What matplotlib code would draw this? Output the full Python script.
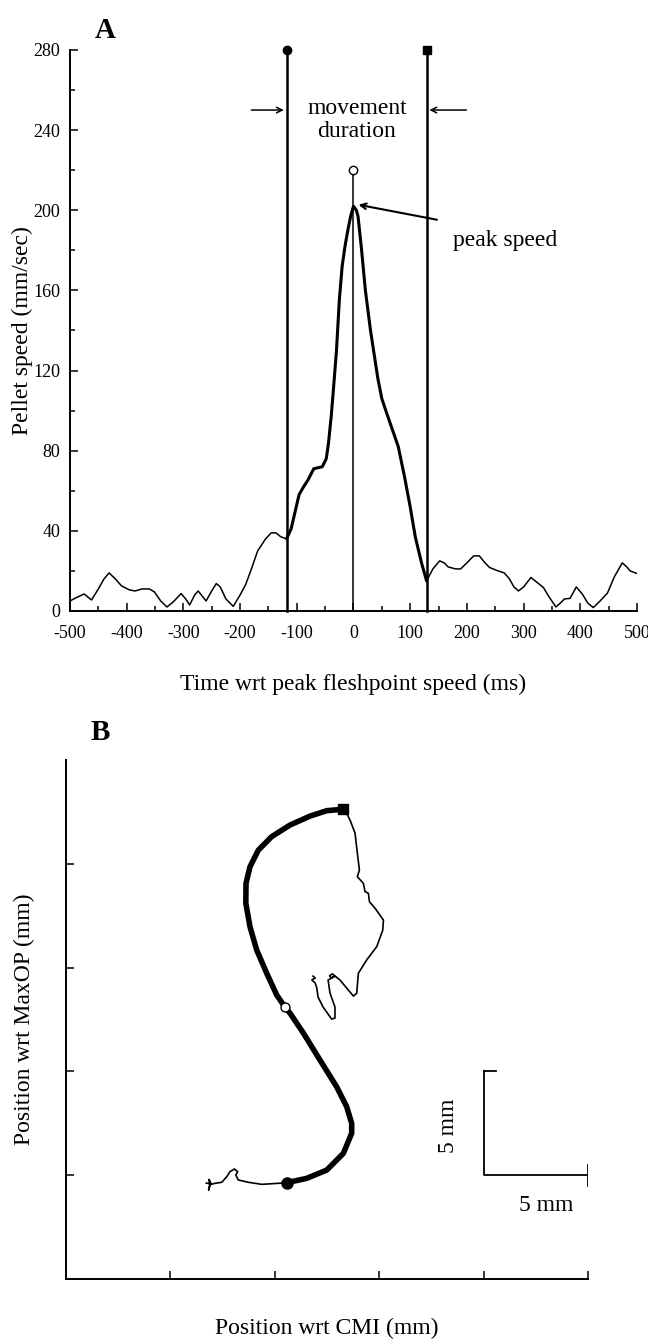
import numpy as np
import matplotlib
matplotlib.use("Agg")
import matplotlib.pyplot as plt
from matplotlib.ticker import MultipleLocator, FixedLocator, NullFormatter

plt.rcParams['font.family'] = ['Liberation Serif', 'DejaVu Serif']
plt.rcParams['axes.unicode_minus'] = False

# ---- panel A: pellet speed vs time (ms) ----
time_ms = [-500, -490, -475, -462, -450, -440, -431, -420, -409, -395, -385, -373,
           -360, -351, -340, -329, -318, -304, -296, -289, -280, -274, -267, -260,
           -250, -242, -235, -225, -212, -200, -190, -180, -169, -155, -145, -137,
           -128, -118, -110, -96, -88, -81, -70, -55, -48, -44, -39, -35, -30, -25,
           -20, -15, -10, -5, 0, 5, 8, 14, 21, 30, 43, 50, 57, 68, 79, 90, 100, 109,
           120, 129, 140, 152, 160, 167, 180, 189, 200, 212, 222, 232, 240, 255, 266,
           275, 283, 291, 300, 313, 325, 335, 345, 357, 365, 372, 382, 393, 404, 413,
           423, 435, 448, 460, 474, 482, 488, 500]
speed = [5, 6.5, 8.5, 5.5, 11, 16, 19, 16, 12.5, 10.5, 10, 11,
         11, 9.5, 5, 2, 4.5, 8.7, 6, 3, 8, 10, 7.5, 5,
         10, 13.7, 12, 6, 2.3, 8, 13.3, 21, 30, 36, 39, 39,
         37, 36, 41, 58, 62, 65, 71, 72, 76, 84, 98, 112, 130, 155,
         172, 182, 190, 197, 202, 200, 197, 181, 160, 140, 116, 106, 100, 91, 82, 67, 52, 37,
         24, 15, 21, 25, 24, 22, 21, 21, 24, 27.5, 27.5, 24, 21.7, 20, 19,
         16, 12, 10, 12, 16.7, 14, 11.7, 7, 2, 4, 6, 6.3, 12, 8.3, 4,
         1.7, 5, 9, 17, 24, 22, 20, 18.7]
move_start = -118
move_end = 129
peak_time = 0
peak_marker = 220

# ---- panel B: pellet path (mm) ----
pre_x = [6.72, 6.95, 6.85, 6.88, 6.83, 6.9, 7.14, 7.46, 7.70, 7.85, 8.06, 8.22, 8.13, 8.25, 8.73, 9.37, 10.17, 10.57]
pre_y = [4.62, 4.58, 4.80, 4.52, 4.28, 4.55, 4.61, 4.66, 4.93, 5.17, 5.30, 5.17, 5.01, 4.77, 4.66, 4.56, 4.61, 4.64]
move_x = [10.57, 11.53, 12.49, 13.28, 13.68, 13.68, 13.44, 12.96, 12.16, 11.37, 10.73, 10.49,
          10.09, 9.61, 9.13, 8.81, 8.61, 8.62, 8.81, 9.21, 9.85, 10.73, 11.69, 12.49, 13.28]
move_y = [4.64, 4.85, 5.25, 6.05, 7.02, 7.50, 8.30, 9.26, 10.55, 11.84, 12.80, 13.09,
          13.68, 14.73, 15.85, 16.97, 18.10, 19.06, 19.86, 20.66, 21.31, 21.87, 22.30, 22.56, 22.63]
post_x = [13.28, 13.44, 13.60, 13.84, 13.95, 14.05, 13.95, 14.24, 14.32, 14.48, 14.53, 14.80, 15.20,
          15.17, 14.88, 14.40, 14.00, 13.92, 13.76, 13.52, 13.12, 12.88, 12.75, 12.62, 12.70, 12.86,
          12.55, 12.64, 12.88, 12.88, 12.72, 12.31, 12.07, 12.01, 11.93, 11.77, 11.93, 11.83]
post_y = [22.63, 22.43, 22.11, 21.48, 20.52, 19.70, 19.38, 19.06, 18.66, 18.58, 18.17, 17.86, 17.29,
          16.81, 16.01, 15.37, 14.73, 13.76, 13.63, 13.92, 14.40, 14.60, 14.70, 14.60, 14.50, 14.58,
          14.40, 13.78, 13.10, 12.57, 12.52, 13.10, 13.58, 14.02, 14.26, 14.40, 14.50, 14.59]
peak_idx = 11
b_xticks = [5, 10, 15, 20, 25]
b_yticks = [5, 10, 15, 20]

fig = plt.figure(figsize=(6.48, 13.39), dpi=100)

# ================= A =================
ax = fig.add_axes([0.1080, 0.5437, 0.875, 0.419])
t = np.array(time_ms)
v = np.array(speed)
ax.plot(t, v, color='black', lw=1.1)
inside = (t >= move_start) & (t <= move_end)
ax.plot(t[inside], v[inside], color='black', lw=2.2, solid_capstyle='round')

ax.plot([move_start, move_start], [0, 280], color='black', lw=1.8, clip_on=False)
ax.plot([move_end, move_end], [0, 280], color='black', lw=1.8, clip_on=False)
ax.plot([move_start], [280], 'o', color='black', ms=6, clip_on=False)
ax.plot([move_end], [280], 's', color='black', ms=6, clip_on=False)
ax.plot([peak_time, peak_time], [0, peak_marker], color='black', lw=1.1)
ax.plot([peak_time], [peak_marker], 'o', mfc='white', mec='black', ms=6, mew=1, clip_on=False)

ax.annotate('', xy=(move_start, 250), xytext=(-185, 250),
            arrowprops=dict(arrowstyle='->', color='black', lw=1.1))
ax.annotate('', xy=(move_end, 250), xytext=(204, 250),
            arrowprops=dict(arrowstyle='->', color='black', lw=1.1))
ax.text(6, 245, 'movement\nduration', ha='center', va='center', fontsize=17, linespacing=1.15)
ax.annotate('', xy=(4, 203), xytext=(152, 195),
            arrowprops=dict(arrowstyle='->', color='black', lw=1.5))
ax.text(268, 185, 'peak speed', ha='center', va='center', fontsize=17)

ax.set_xlim(-500, 500)
ax.set_ylim(0, 280)
ax.xaxis.set_major_locator(MultipleLocator(100))
ax.xaxis.set_minor_locator(MultipleLocator(50))
ax.yaxis.set_major_locator(MultipleLocator(40))
ax.yaxis.set_minor_locator(MultipleLocator(20))
ax.tick_params(which='both', direction='in', width=1.1, labelsize=13)
ax.tick_params(which='major', length=6)
ax.tick_params(which='minor', length=3.5)
ax.tick_params(axis='y', pad=7)
ax.tick_params(axis='x', pad=10)
for s in ['top', 'right']:
    ax.spines[s].set_visible(False)
for s in ['left', 'bottom']:
    ax.spines[s].set_linewidth(1.4)
ax.set_xlabel('Time wrt peak fleshpoint speed (ms)', fontsize=17)
ax.set_ylabel('Pellet speed (mm/sec)', fontsize=17)
ax.xaxis.set_label_coords(0.5, -0.112)
ax.yaxis.set_label_coords(-0.065, 0.5)
fig.text(105 / 648, 1 - 30 / 1339, 'A', fontsize=21, fontweight='bold', ha='center', va='center')

# ================= B =================
bx = fig.add_axes([0.1019, 0.0448, 0.8056, 0.3876])
bx.plot(pre_x, pre_y, color='black', lw=1.2)
bx.plot(post_x, post_y, color='black', lw=1.2)
bx.plot(move_x, move_y, color='black', lw=4, solid_capstyle='round', solid_joinstyle='round')
bx.plot(move_x[0], move_y[0], 'o', color='black', ms=8)
bx.plot(move_x[-1], move_y[-1], 's', color='black', ms=7.5)
bx.plot(move_x[peak_idx], move_y[peak_idx], 'o', mfc='white', mec='black', ms=6.5, mew=1)

# 5 mm scale bar
bx.plot([20, 20, 25], [10, 5, 5], color='black', lw=1.3)
bx.plot([20, 20.6], [10, 10], color='black', lw=1.3)
bx.plot([25, 25], [4.5, 5.5], color='black', lw=1.3)
bx.text(18.3, 7.4, '5 mm', rotation=90, ha='center', va='center', fontsize=17)
bx.text(23.0, 3.55, '5 mm', ha='center', va='center', fontsize=17)

bx.set_xlim(0, 25)
bx.set_ylim(0, 25)
bx.xaxis.set_major_locator(FixedLocator(b_xticks))
bx.yaxis.set_major_locator(FixedLocator(b_yticks))
bx.xaxis.set_major_formatter(NullFormatter())
bx.yaxis.set_major_formatter(NullFormatter())
bx.tick_params(direction='in', length=6, width=1.1)
for s in ['top', 'right']:
    bx.spines[s].set_visible(False)
for s in ['left', 'bottom']:
    bx.spines[s].set_linewidth(1.4)
bx.set_xlabel('Position wrt CMI (mm)', fontsize=17)
bx.set_ylabel('Position wrt MaxOP (mm)', fontsize=17)
bx.xaxis.set_label_coords(0.5, -0.075)
bx.yaxis.set_label_coords(-0.06, 0.5)
fig.text(100 / 648, 1 - 733 / 1339, 'B', fontsize=21, fontweight='bold', ha='center', va='center')

fig.savefig('out.png', dpi=100)
